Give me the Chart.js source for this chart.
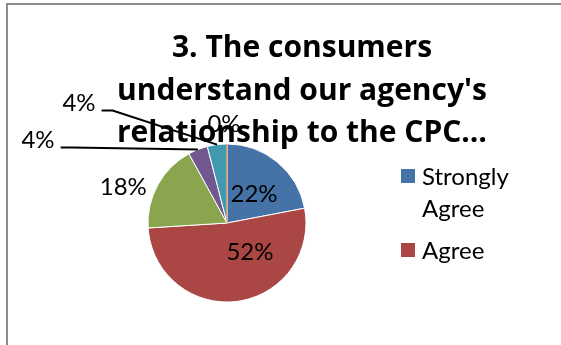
<!DOCTYPE html>
<html>
<head>
<meta charset="utf-8">
<script src="https://cdn.jsdelivr.net/npm/chart.js@4/dist/chart.umd.min.js"></script>
<style>
  html, body { margin: 0; padding: 0; background: #fff; overflow: hidden; }
  #frame {
    position: absolute; left: 6px; top: 3px; width: 620px; height: 400px;
    border-left: 2px solid #8c8c8c; border-top: 2px solid #8c8c8c;
  }
  #chart { position: absolute; left: 0; top: 0; }
</style>
</head>
<body>
<div id="frame"></div>
<canvas id="chart" width="561" height="345"></canvas>
<script>
const titleLines = ['3. The consumers', "understand our agency's", 'relationship to the CPC…'];
const categories = ['Strongly Agree', 'Agree', 'Neutral', 'Disagree', 'Strongly Disagree', 'No Opinion'];
const percents = [22, 52, 18, 4, 4, 0];
const colors = ['#4572A7', '#AA4643', '#89A54E', '#71588F', '#4198AF', '#DB843D'];

// where each % label sits, relative to the pie centre, in radii
const labelSpots = [[0.342, -0.367], [0.291, 0.373], [-1.313, -0.449], [-2.392, -1.044], [-1.873, -1.513], [-0.038, -1.253]];
// these labels are pulled out and get a leader line
const leaderSlices = [3, 4];
// only the first two entries fit in the legend box
const legendCount = 2;

const FONT = 'Lato, "Open Sans", sans-serif';
const TITLE_FONT = 'bold 30px "Open Sans", Lato, sans-serif';

const overlay = {
  id: 'overlay',
  afterDatasetsDraw(chart) {
    const ctx = chart.ctx;
    const arcs = chart.getDatasetMeta(0).data;
    ctx.save();

    // zero-size slices still show as a thin spoke
    arcs.forEach((arc, i) => {
      if (percents[i] !== 0) return;
      const a = arc.startAngle;
      ctx.strokeStyle = colors[i];
      ctx.lineWidth = 1;
      ctx.beginPath();
      ctx.moveTo(arc.x, arc.y);
      ctx.lineTo(arc.x + Math.cos(a) * arc.outerRadius, arc.y + Math.sin(a) * arc.outerRadius);
      ctx.stroke();
    });

    // title
    ctx.fillStyle = '#000';
    ctx.font = TITLE_FONT;
    ctx.textAlign = 'center';
    ctx.textBaseline = 'alphabetic';
    const titleBase = [57, 100, 142];
    titleLines.forEach((line, i) => ctx.fillText(line, 302, titleBase[i]));

    // data labels
    ctx.font = '24px ' + FONT;
    ctx.textBaseline = 'middle';
    arcs.forEach((arc, i) => {
      const r = arc.outerRadius;
      const lx = arc.x + labelSpots[i][0] * r;
      const ly = arc.y + labelSpots[i][1] * r;
      const text = percents[i] + '%';
      ctx.fillText(text, lx, ly);
      if (leaderSlices.includes(i)) {
        const mid = (arc.startAngle + arc.endAngle) / 2;
        const ex = arc.x + Math.cos(mid) * r;
        const ey = arc.y + Math.sin(mid) * r;
        const sx = lx + ctx.measureText(text).width / 2 + 6;
        const sy = ly + 7;
        ctx.strokeStyle = '#000';
        ctx.lineWidth = 2;
        ctx.beginPath();
        ctx.moveTo(sx, sy);
        ctx.lineTo(sx + 11, sy);
        ctx.lineTo(ex, ey);
        ctx.stroke();
      }
    });

    // legend
    ctx.textAlign = 'left';
    ctx.textBaseline = 'alphabetic';
    let base = 185;
    for (let i = 0; i < legendCount; i++) {
      ctx.fillStyle = colors[i];
      ctx.fillRect(401, base - 16, 14, 14);
      ctx.fillStyle = '#000';
      const words = categories[i].split(' ');
      let line = '';
      const lines = [];
      words.forEach(w => {
        const test = line ? line + ' ' + w : w;
        if (line && ctx.measureText(test).width > 110) { lines.push(line); line = w; }
        else line = test;
      });
      lines.push(line);
      lines.forEach((l, k) => ctx.fillText(l, 422, base + k * 31.7));
      base += (lines.length - 1) * 31.7 + 42.3;
    }
    ctx.restore();
  }
};

new Chart(document.getElementById('chart'), {
  type: 'pie',
  data: {
    labels: categories,
    datasets: [{
      data: percents,
      backgroundColor: colors,
      borderColor: '#ffffff',
      borderWidth: 1,
      hoverOffset: 0,
    }],
  },
  options: {
    responsive: false,
    animation: false,
    radius: 79,
    layout: { padding: { left: 148, right: 255, top: 144, bottom: 43 } },
    plugins: {
      legend: { display: false },
      title: { display: false },
      tooltip: { enabled: false },
    },
  },
  plugins: [overlay],
});
</script>
</body>
</html>
